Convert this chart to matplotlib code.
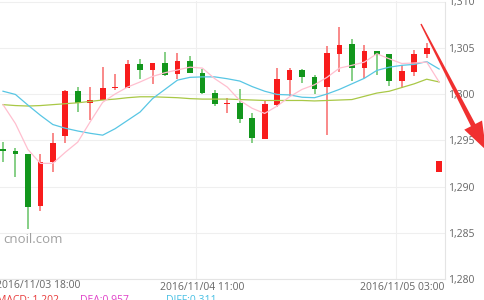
import matplotlib
matplotlib.use('Agg')
import matplotlib.pyplot as plt
from matplotlib.patches import Polygon
import numpy as np

plt.rcParams['font.family'] = ['Open Sans', 'DejaVu Sans']

# hourly candles (open, high, low, close)
opens = [1294.1, 1293.8, 1293.5, 1287.9, 1292.7, 1295.5, 1300.3, 1299.0, 1299.3, 1300.65,
         1300.7, 1303.2, 1302.6, 1303.4, 1302.2, 1303.55, 1302.3, 1300.15, 1298.9, 1299.0,
         1297.4, 1295.1, 1298.8, 1301.5, 1302.6, 1301.8, 1300.8, 1304.35, 1305.4, 1302.8,
         1304.65, 1304.3, 1301.4, 1302.4, 1304.35, 1291.6]
highs = [1294.8, 1294.2, 1293.5, 1293.5, 1295.8, 1300.4, 1300.8, 1300.8, 1302.9, 1302.2,
         1303.7, 1303.8, 1303.4, 1304.5, 1304.45, 1304.1, 1302.7, 1300.4, 1299.6, 1300.5,
         1297.9, 1299.3, 1302.8, 1302.8, 1302.7, 1302.1, 1305.2, 1307.2, 1305.9, 1305.3,
         1304.7, 1304.3, 1303.1, 1304.8, 1305.5, 1292.8]
lows = [1292.6, 1291.0, 1285.4, 1287.4, 1291.6, 1294.7, 1298.05, 1297.2, 1299.3, 1300.4,
        1300.7, 1301.65, 1301.1, 1302.0, 1301.65, 1302.3, 1300.0, 1298.75, 1297.95, 1296.9,
        1294.7, 1295.1, 1298.6, 1299.75, 1301.2, 1300.0, 1295.6, 1302.4, 1301.4, 1301.7,
        1302.1, 1300.9, 1300.65, 1301.9, 1303.9, 1291.6]
closes = [1293.8, 1293.5, 1287.8, 1292.7, 1294.7, 1300.3, 1299.0, 1299.35, 1300.6, 1300.8,
          1303.2, 1302.55, 1303.4, 1302.1, 1303.6, 1302.3, 1300.15, 1298.9, 1299.05, 1297.3,
          1295.2, 1298.95, 1301.6, 1302.6, 1301.85, 1300.5, 1304.4, 1305.35, 1302.8, 1304.6,
          1304.2, 1301.4, 1302.45, 1304.35, 1305.0, 1292.8]

ma_pink = [1298.85, 1296.8, 1294.0, 1292.5, 1292.5, 1293.7, 1294.8, 1297.0, 1299.1, 1300.0,
           1300.75, 1301.3, 1301.9, 1302.3, 1302.6, 1302.9, 1302.8, 1301.65, 1300.75, 1299.3,
           1298.45, 1297.9, 1298.7, 1299.7, 1300.5, 1301.0, 1301.8, 1302.8, 1303.1, 1303.45,
           1304.35, 1303.8, 1303.3, 1303.35, 1303.45, 1301.3]
ma_cyan = [1300.3, 1299.95, 1298.8, 1297.7, 1296.7, 1296.3, 1296.0, 1295.75, 1295.55, 1296.25,
           1297.15, 1298.05, 1299.5, 1300.5, 1301.5, 1301.8, 1301.85, 1301.85, 1301.65, 1301.4,
           1300.8, 1300.3, 1299.95, 1299.9, 1299.65, 1299.6, 1300.0, 1300.5, 1301.1, 1301.7,
           1302.55, 1302.9, 1303.1, 1303.2, 1303.5, 1302.7]
ma_olive = [1298.85, 1298.75, 1298.7, 1298.75, 1298.85, 1298.95, 1299.05, 1299.2, 1299.35, 1299.45,
            1299.6, 1299.7, 1299.7, 1299.65, 1299.6, 1299.5, 1299.45, 1299.45, 1299.45, 1299.4,
            1299.35, 1299.3, 1299.3, 1299.3, 1299.3, 1299.25, 1299.3, 1299.35, 1299.4, 1299.75,
            1300.1, 1300.3, 1300.7, 1301.1, 1301.6, 1301.3]

date_labels = ['2016/11/03 18:00', '2016/11/04 11:00', '2016/11/05 03:00']
yticks = [1280, 1285, 1290, 1295, 1300, 1305, 1310]

W, H = 484, 300
fig = plt.figure(figsize=(W / 100, H / 100), dpi=100)
ax = fig.add_axes([0, 21 / H, 445 / W, 277.5 / H])

x = np.arange(len(opens))
o = np.array(opens)
c = np.array(closes)
up = c >= o
body_col = np.where(up, '#f81c1c', '#12961c')
wick_col = np.where(up, '#f86a6a', '#66c266')

ax.vlines(x, lows, highs, colors=wick_col, lw=1.1, zorder=3)
ax.bar(x, np.maximum(np.abs(c - o), 0.14), bottom=np.minimum(o, c), width=0.46,
       color=body_col, edgecolor='none', zorder=4)

ax.plot(x, ma_olive, color='#a9c846', lw=0.9, zorder=5)
ax.plot(x, ma_cyan, color='#58c6e4', lw=0.9, zorder=5)
ax.plot(x, ma_pink, color='#ffbfcf', lw=0.9, zorder=5)

ax.set_xlim(-0.24, 35.47)
ax.set_ylim(1280, 1310)

ax.set_yticks(yticks)
ax.set_yticklabels(['{:,}'.format(v) for v in yticks])
ax.yaxis.tick_right()
ax.tick_params(axis='y', length=0, pad=2, labelsize=7.5, labelcolor='#666666')
ax.grid(axis='y', color='#efefef', lw=0.8, zorder=0)

ax.set_xticks([15.5, 31.5], minor=True)
ax.set_xticks([16, 32])
ax.set_xticklabels(date_labels[1:])
ax.tick_params(axis='x', which='both', length=0, pad=2, labelsize=7.5, labelcolor='#666666')
ax.grid(axis='x', which='minor', color='#efefef', lw=0.8, zorder=0)
ax.text(80 / 445, -7 / 277.5, date_labels[0], transform=ax.transAxes, ha='right', va='center',
        fontsize=7.5, color='#666666')

for s in ['left', 'top']:
    ax.spines[s].set_visible(False)
for s in ['right', 'bottom']:
    ax.spines[s].set_color('#e4e4e4')
    ax.spines[s].set_linewidth(0.8)

ax.text(2 / 445, 1284.3, 'cnoil.com', ha='left', va='center', fontsize=9.5, color='#a0a0a0')

# MACD line, cut off at the bottom
fig.text(-3 / W, 5 / H, 'MACD: 1.202', color='#e83a3a', fontsize=7.5, va='top')
fig.text(80 / W, 5 / H, 'DEA:0.957', color='#e040c8', fontsize=7.5, va='top')
fig.text(166 / W, 5 / H, 'DIFF:0.311', color='#48c0e4', fontsize=7.5, va='top')

# red arrow
def px(p):
    return (p[0] / W, 1 - p[1] / H)

start = np.array([421.0, 24.0])
tip = np.array([486.0, 150.0])
u = (tip - start) / np.linalg.norm(tip - start)
n = np.array([u[1], -u[0]])
base = tip - 28 * u
pts = [start + 0.7 * n, base + 2.5 * n, base + 10 * n, tip,
       base - 10 * n, base - 2.5 * n, start - 0.7 * n]
fig.patches.append(Polygon([px(p) for p in pts], closed=True, transform=fig.transFigure,
                           facecolor='#f03030', edgecolor='none', zorder=10))

fig.savefig('out.png', dpi=100)
